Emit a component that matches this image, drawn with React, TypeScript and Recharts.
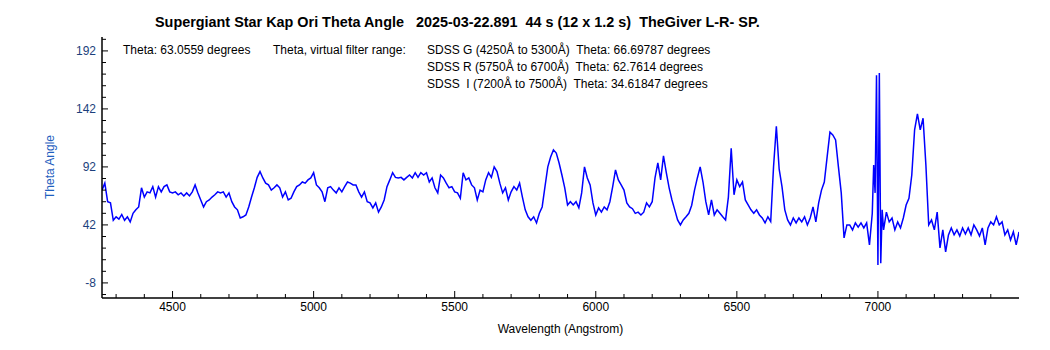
import { LineChart, Line, XAxis, YAxis } from 'recharts'

// wavelength grid (Angstrom), 10 A steps with a few extra points around the 7000 A spike
const wavelengths = [
  4250, 4260, 4270, 4280, 4290, 4300, 4310, 4320, 4330, 4340,
  4350, 4360, 4370, 4380, 4390, 4400, 4410, 4420, 4430, 4440,
  4450, 4460, 4470, 4480, 4490, 4500, 4510, 4520, 4530, 4540,
  4550, 4560, 4570, 4580, 4590, 4600, 4610, 4620, 4630, 4640,
  4650, 4660, 4670, 4680, 4690, 4700, 4710, 4720, 4730, 4740,
  4750, 4760, 4770, 4780, 4790, 4800, 4810, 4820, 4830, 4840,
  4850, 4860, 4870, 4880, 4890, 4900, 4910, 4920, 4930, 4940,
  4950, 4960, 4970, 4980, 4990, 5000, 5010, 5020, 5030, 5040,
  5050, 5060, 5070, 5080, 5090, 5100, 5110, 5120, 5130, 5140,
  5150, 5160, 5170, 5180, 5190, 5200, 5210, 5220, 5230, 5240,
  5250, 5260, 5270, 5280, 5290, 5300, 5310, 5320, 5330, 5340,
  5350, 5360, 5370, 5380, 5390, 5400, 5410, 5420, 5430, 5440,
  5450, 5460, 5470, 5480, 5490, 5500, 5510, 5520, 5530, 5540,
  5550, 5560, 5570, 5580, 5590, 5600, 5610, 5620, 5630, 5640,
  5650, 5660, 5670, 5680, 5690, 5700, 5710, 5720, 5730, 5740,
  5750, 5760, 5770, 5780, 5790, 5800, 5810, 5820, 5830, 5840,
  5850, 5860, 5870, 5880, 5890, 5900, 5910, 5920, 5930, 5940,
  5950, 5960, 5970, 5980, 5990, 6000, 6010, 6020, 6030, 6040,
  6050, 6060, 6070, 6080, 6090, 6100, 6110, 6120, 6130, 6140,
  6150, 6160, 6170, 6180, 6190, 6200, 6210, 6220, 6230, 6240,
  6250, 6260, 6270, 6280, 6290, 6300, 6310, 6320, 6330, 6340,
  6350, 6360, 6370, 6380, 6390, 6400, 6410, 6420, 6430, 6440,
  6450, 6460, 6470, 6480, 6490, 6500, 6510, 6520, 6530, 6540,
  6550, 6560, 6570, 6580, 6590, 6600, 6610, 6620, 6630, 6640,
  6650, 6660, 6670, 6680, 6690, 6700, 6710, 6720, 6730, 6740,
  6750, 6760, 6770, 6780, 6790, 6800, 6810, 6820, 6830, 6840,
  6850, 6860, 6870, 6880, 6890, 6900, 6910, 6920, 6930, 6940,
  6950, 6960, 6970, 6980, 6985, 6990, 6995, 7000, 7005, 7010,
  7015, 7020, 7030, 7040, 7050, 7060, 7070, 7080, 7090, 7100,
  7110, 7120, 7130, 7140, 7150, 7160, 7170, 7180, 7190, 7200,
  7210, 7220, 7230, 7240, 7250, 7260, 7270, 7280, 7290, 7300,
  7310, 7320, 7330, 7340, 7350, 7360, 7370, 7380, 7390, 7400,
  7410, 7420, 7430, 7440, 7450, 7460, 7470, 7480, 7490, 7500,
]

// theta angle (degrees), same order as wavelengths
const theta = [
  72, 78, 62, 61, 46, 49, 47, 51, 46, 49,
  44.6, 52, 55, 57.5, 74, 66, 70.5, 69.6, 75, 66,
  75, 70.5, 75, 76.5, 70.5, 69.6, 70.5, 68, 69.6, 67,
  69.6, 67, 70.5, 76.5, 69.6, 63.5, 57.5, 62, 63.5, 66,
  68, 70.5, 69.6, 70.5, 66, 69.6, 62, 57.5, 55, 48,
  49, 50.6, 57.5, 66, 74, 83, 88, 82.5, 78, 76.5,
  72, 74, 76.5, 74, 66, 70.5, 63.5, 65, 70.5, 75,
  76.5, 79, 78, 80.8, 82.5, 87, 76.5, 74, 70.5, 62,
  74, 75, 72, 69.6, 74, 70.5, 75, 79, 78, 76.5,
  76.5, 70.5, 66, 70.5, 62, 61, 56.7, 61, 53, 57.5,
  63.5, 75, 80.8, 87, 83, 82.5, 83, 80.8, 83, 85,
  82.5, 87, 83, 87, 85, 87, 79, 82.5, 74, 69.6,
  85, 82.5, 78, 74, 75, 70.5, 69.6, 65, 87, 80.8,
  82.5, 76.5, 74, 63.5, 72, 70.5, 80.8, 87, 83, 92,
  88, 78, 69.6, 74, 63.5, 70.5, 75, 72, 78, 66,
  55, 49, 46, 49, 43.7, 52, 57.5, 75, 92, 100.6,
  106.7, 104, 95.4, 85, 74, 59.2, 62, 59.2, 62, 56.7,
  69.6, 92, 82.5, 76.5, 61, 50.6, 56.7, 53, 57.5, 55,
  62, 75, 89.4, 80.8, 76.5, 72, 61, 57.5, 56, 52,
  53, 50.6, 53, 61, 57.5, 62, 82.5, 95.4, 80.8, 101.5,
  87, 74, 63.5, 55, 46.3, 42, 46.3, 49, 52, 59,
  72, 82.5, 92, 79, 62, 50.6, 63.5, 50.6, 55, 52,
  49, 46.3, 66, 108, 68, 80.8, 75, 79, 63.5, 59.2,
  55, 52, 55, 50.6, 48, 43.7, 49, 45, 92, 127,
  90, 75, 55, 46.3, 42, 48, 43.7, 48, 44.6, 49,
  42, 48, 57.5, 44.6, 61, 72, 79, 100.6, 122, 119.6,
  115.3, 92, 69.6, 30.8, 42, 42, 37.7, 43.7, 40, 43.7,
  39.4, 43.7, 24.8, 52, 93.7, 69.6, 171, 7.5, 173, 9,
  55, 37.7, 53, 44.6, 48, 37.7, 44.6, 39.4, 48, 59.2,
  65, 85, 124, 137.7, 124, 134, 93.7, 42, 46.3, 37.7,
  53, 22.2, 37.7, 18.7, 33.4, 39.4, 33.4, 37.7, 32.5, 39.4,
  34.2, 39.4, 33.4, 42, 37.7, 32.5, 39.4, 24.8, 39.4, 44.6,
  42, 49, 42, 44.6, 33.4, 37.7, 29, 36, 24.8, 36,
]

const yMajorTicks = [192, 142, 92, 42, -8]
const yTicks = [
  202, 192, 182, 172, 162, 152, 142, 132, 122, 112, 102, 92,
  82, 72, 62, 52, 42, 32, 22, 12, 2, -8, -18,
]
const xMajorTicks = [4500, 5000, 5500, 6000, 6500, 7000]
const xTicks = [
  4300, 4400, 4500, 4600, 4700, 4800, 4900, 5000, 5100, 5200, 5300,
  5400, 5500, 5600, 5700, 5800, 5900, 6000, 6100, 6200, 6300, 6400,
  6500, 6600, 6700, 6800, 6900, 7000, 7100, 7200, 7300, 7400,
]

const title = 'Supergiant Star Kap Ori Theta Angle   2025-03-22.891  44 s (12 x 1.2 s)  TheGiver L-R- SP.'
const thetaNote = 'Theta: 63.0559 degrees'
const filterHeading = 'Theta, virtual filter range:'
const filterNotes = [
  'SDSS G (4250Å to 5300Å)  Theta: 66.69787 degrees',
  'SDSS R (5750Å to 6700Å)  Theta: 62.7614 degrees',
  'SDSS  I (7200Å to 7500Å)  Theta: 34.61847 degrees',
]

const data = wavelengths.map((w, i) => ({ w, theta: theta[i] }))

const FONT = '"Liberation Sans", Arial, sans-serif'
const PLOT_LEFT = 102
const PLOT_BOTTOM = 298

const YTick = ({ y, payload }: any) => {
  const major = yMajorTicks.includes(payload.value)
  return (
    <g>
      <line x1={PLOT_LEFT} x2={PLOT_LEFT + (major ? 6 : 4)} y1={y} y2={y} stroke="#000" />
      {major && (
        <text x={PLOT_LEFT - 6} y={y} dy={4} textAnchor="end" fontSize={12} fontFamily={FONT} fill="#1c3f7c">
          {payload.value}
        </text>
      )}
    </g>
  )
}

const XTick = ({ x, payload }: any) => {
  const major = xMajorTicks.includes(payload.value)
  return (
    <g>
      <line x1={x} x2={x} y1={PLOT_BOTTOM} y2={PLOT_BOTTOM - (major ? 7 : 4)} stroke="#000" />
      {major && (
        <text x={x} y={PLOT_BOTTOM + 13} textAnchor="middle" fontSize={12} fontFamily={FONT} fill="#000">
          {payload.value}
        </text>
      )}
    </g>
  )
}

const noteStyle = {
  position: 'absolute' as const,
  fontFamily: FONT,
  fontSize: 12,
  color: '#000',
  whiteSpace: 'pre' as const,
  lineHeight: '17px',
}

export default function App() {
  return (
    <div style={{ position: 'absolute', left: 0, top: 0, width: 1050, height: 350, background: '#fff' }}>
      <LineChart width={1050} height={350} data={data} margin={{ top: 37, right: 31, bottom: 0, left: 0 }}>
        <XAxis
          dataKey="w"
          type="number"
          domain={[4250, 7500]}
          ticks={xTicks}
          interval={0}
          height={52}
          tick={<XTick />}
          tickLine={false}
          axisLine={{ stroke: '#000', strokeWidth: 1.5 }}
          allowDataOverflow
          label={{ value: 'Wavelength (Angstrom)', position: 'insideBottom', offset: 17, fontSize: 12, fontFamily: FONT, fill: '#000' }}
        />
        <XAxis
          xAxisId="top"
          dataKey="w"
          type="number"
          orientation="top"
          domain={[4250, 7500]}
          height={0}
          tick={false}
          tickLine={false}
          axisLine={{ stroke: '#000', strokeWidth: 1.5 }}
        />
        <YAxis
          type="number"
          domain={[-21, 204]}
          ticks={yTicks}
          interval={0}
          width={102}
          tick={<YTick />}
          tickLine={false}
          axisLine={{ stroke: '#000', strokeWidth: 1.5 }}
          allowDataOverflow
        />
        <YAxis
          yAxisId="right"
          orientation="right"
          type="number"
          domain={[-21, 204]}
          width={0}
          tick={false}
          tickLine={false}
          axisLine={{ stroke: '#000', strokeWidth: 2 }}
        />
        <Line
          dataKey="theta"
          stroke="#0000ff"
          strokeWidth={1.5}
          dot={false}
          activeDot={false}
          isAnimationActive={false}
        />
      </LineChart>

      <div style={{ ...noteStyle, left: 155, top: 12, fontSize: 14.4, fontWeight: 'bold', lineHeight: '20px' }}>{title}</div>
      <div style={{ ...noteStyle, left: 123, top: 42 }}>{thetaNote}</div>
      <div style={{ ...noteStyle, left: 273, top: 42 }}>{filterHeading}</div>
      <div style={{ ...noteStyle, left: 427, top: 42 }}>
        {filterNotes.map((t) => (
          <div key={t}>{t}</div>
        ))}
      </div>
      <div
        style={{
          position: 'absolute',
          left: 50,
          top: 167,
          transform: 'translate(-50%, -50%) rotate(-90deg)',
          fontFamily: FONT,
          fontSize: 12,
          color: '#1f5fbf',
          whiteSpace: 'nowrap',
        }}
      >
        Theta Angle
      </div>
    </div>
  )
}
